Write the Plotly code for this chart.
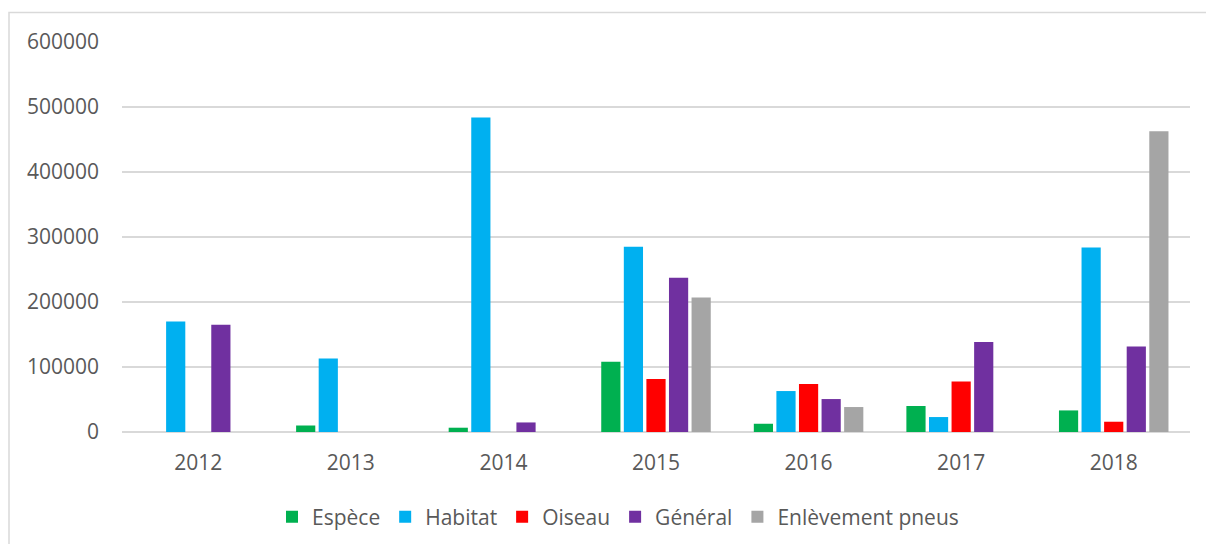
import plotly.graph_objects as go

years = ["2012", "2013", "2014", "2015", "2016", "2017", "2018"]
espece = [0, 10000, 6600, 108000, 12700, 40000, 33200]
habitat = [170000, 113000, 484000, 285000, 63000, 23000, 284000]
oiseau = [0, 0, 0, 81400, 73700, 77700, 15800]
general = [165000, 0, 14700, 237500, 50700, 138500, 131500]
pneus = [0, 0, 0, 206800, 38400, 0, 462800]

series = [
    ("Espèce", espece, "#00B050"),
    ("Habitat", habitat, "#00B0F0"),
    ("Oiseau", oiseau, "#FF0000"),
    ("Général", general, "#7030A0"),
    ("Enlèvement pneus", pneus, "#A5A5A5"),
]

fig = go.Figure()
for name, vals, col in series:
    fig.add_trace(go.Bar(x=years, y=vals, name=name, marker=dict(color=col, line=dict(width=0))))

OFF = 8  # page body margin
W, H = 1214 - OFF, 544 - OFF
L, T = 122 - OFF, 42 - OFF
R = 24
B = H - (432 - OFF)
pw = W - L - R
ph = H - T - B

def px_x(x):
    return (x - OFF - L) / pw

def px_y(y):
    return (H - B - (y - OFF)) / ph

fig.update_layout(
    width=W, height=H,
    margin=dict(l=L, r=R, t=T, b=B, autoexpand=False),
    paper_bgcolor="white", plot_bgcolor="white",
    barmode="group", bargap=0.26, bargroupgap=0.15,
    font=dict(family="Open Sans", size=21, color="#595959"),
    legend=dict(orientation="h", x=px_x(618), xanchor="center",
                y=px_y(517), yanchor="middle",
                font=dict(size=21, color="#595959"), itemwidth=30,
                tracegroupgap=0),
    xaxis=dict(showgrid=False, showline=False, ticks="", ticklabelstandoff=16,
               automargin=False, tickfont=dict(size=21, color="#595959")),
    yaxis=dict(range=[0, 600000], dtick=100000, showgrid=True, gridcolor="#D9D9D9",
               gridwidth=1.5, zeroline=True, zerolinecolor="#D9D9D9", zerolinewidth=1.5,
               showline=False, ticks="", ticklabelstandoff=22, tickformat="d",
               automargin=False, tickfont=dict(size=21, color="#595959")),
    shapes=[dict(type="rect", xref="paper", yref="paper",
                 x0=px_x(9), x1=px_x(1230),
                 y0=px_y(570), y1=px_y(12.5),
                 line=dict(color="#D9D9D9", width=1.5), fillcolor="rgba(0,0,0,0)",
                 layer="below")],
)

fig.write_html("out.html")
